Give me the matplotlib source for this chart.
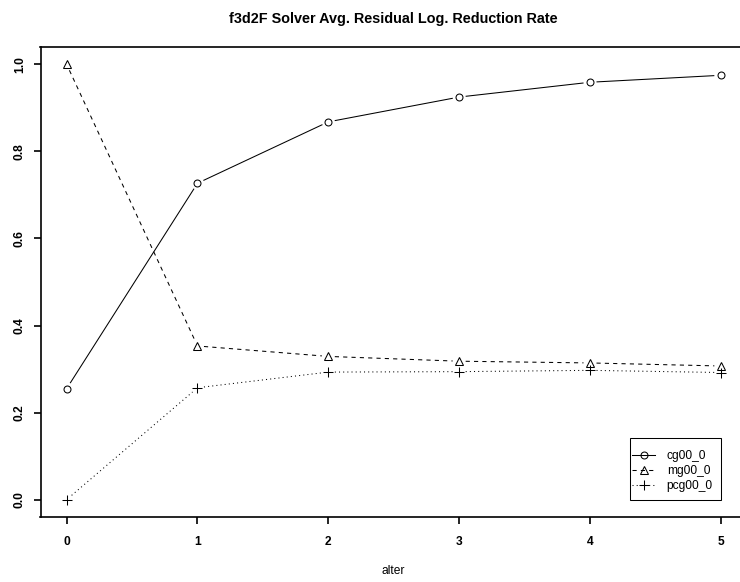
import numpy as np
import matplotlib
matplotlib.use("Agg")
import matplotlib.pyplot as plt
from matplotlib.lines import Line2D
from matplotlib.patches import Rectangle

W, H, DPI = 740, 582, 100

# iteration index ("alter") and reduction rate per solver
alter = [0, 1, 2, 3, 4, 5]
cg00_0 = [0.255, 0.727, 0.868, 0.925, 0.959, 0.975]
mg00_0 = [1.000, 0.353, 0.329, 0.318, 0.314, 0.307]
pcg00_0 = [0.000, 0.257, 0.293, 0.294, 0.297, 0.292]

y_ticks = [0.0, 0.2, 0.4, 0.6, 0.8, 1.0]
y_tick_labels = ["0.0", "0.2", "0.4", "0.6", "0.8", "1.0"]

series = [
    ("cg00_0", cg00_0, dict(linestyle="-"), "o", 5.0),
    ("mg00_0", mg00_0, dict(dashes=(4, 4)), "^", 5.5),
    ("pcg00_0", pcg00_0, dict(dashes=(1, 3)), "+", 7.0),
]

LW = 0.75
GAP = 6.5  # px left free around each point, like type="b"


def px(x, y):
    # pixel position (from top left) -> figure fraction
    return x / W, 1 - y / H


def draw_series(ax, xs, ys, style, marker, ms):
    pts = ax.transData.transform(np.column_stack([xs, ys]))
    inv = ax.transData.inverted()
    for p, q in zip(pts[:-1], pts[1:]):
        d = q - p
        n = np.hypot(*d)
        if n <= 2 * GAP:
            continue
        u = d / n
        a, b = inv.transform([p + u * GAP, q - u * GAP])
        ax.plot([a[0], b[0]], [a[1], b[1]], color="black", lw=LW,
                solid_capstyle="butt", dash_capstyle="butt", **style)
    ax.plot(xs, ys, linestyle="none", marker=marker, ms=ms, mew=LW,
            mfc="none", mec="black")


if __name__ == "__main__":
    plt.rcParams["font.family"] = ["Liberation Sans", "DejaVu Sans"]

    fig = plt.figure(figsize=(W / DPI, H / DPI), dpi=DPI)

    # plot region; right edge runs past the figure border
    left, right, top, bottom = 40.5, 747.0, 47.0, 517.0
    ax = fig.add_axes([left / W, 1 - bottom / H, (right - left) / W, (bottom - top) / H])
    ax.set_xlim(-0.2, 5.2)
    ax.set_ylim(-0.04, 1.04)

    for name, ys, style, marker, ms in series:
        draw_series(ax, alter, ys, style, marker, ms)

    # 1. Axes
    for s in ax.spines.values():
        s.set_linewidth(1.2)
    ax.set_xticks(alter)
    ax.set_xticklabels([str(a) for a in alter], fontweight="bold", fontsize=8.64)
    ax.set_yticks(y_ticks)
    ax.set_yticklabels(y_tick_labels, fontweight="bold", fontsize=8.64, va="center")
    ax.tick_params(axis="both", direction="out", length=5.2, width=1.2)
    ax.tick_params(axis="x", pad=8.3)
    ax.tick_params(axis="y", pad=5.4, labelrotation=90)

    # 2. Titles
    cx = (left + right) / 2
    fig.text(*px(cx, 19), "f3d2F Solver Avg. Residual Log. Reduction Rate",
             ha="center", va="center", fontsize=10.4, fontweight="bold")
    fig.text(*px(cx, 571.5), "alter", ha="center", va="center", fontsize=8.64)

    # 3. Legend with a plain box
    handles = [Line2D([0], [0], color="black", lw=LW, marker=m, ms=ms, mew=LW,
                      mfc="none", **st) for _, _, st, m, ms in series]
    ax.legend(handles, [s[0] for s in series], loc="upper left",
              bbox_to_anchor=px(632, 450.5), bbox_transform=fig.transFigure,
              frameon=False, borderpad=0, borderaxespad=0, handlelength=1.92,
              handletextpad=0.97, labelspacing=0.22, fontsize=8.64)
    x0, y0 = px(630, 500)
    fig.add_artist(Rectangle((x0, y0), 91 / W, 62 / H, transform=fig.transFigure,
                             fill=False, edgecolor="black", lw=0.75))

    fig.savefig("out.png", dpi=DPI)
